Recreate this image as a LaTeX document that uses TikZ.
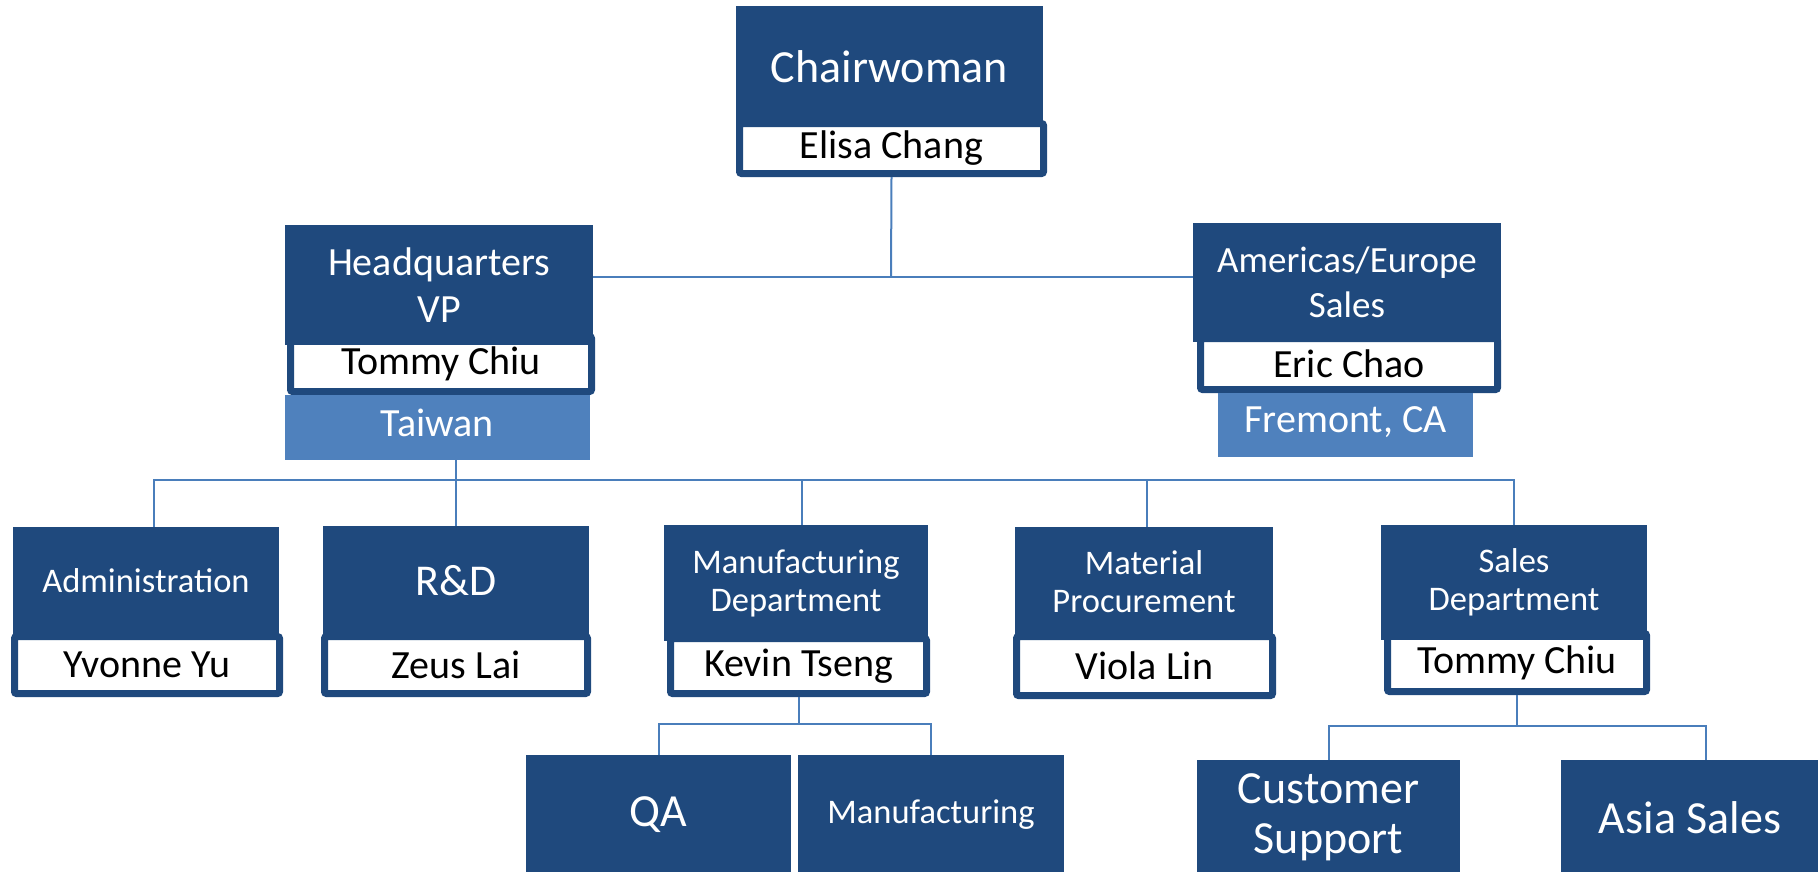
\documentclass[tikz,border=0pt]{standalone}
\usepackage{fontspec}
\setmainfont{Carlito}
\definecolor{unitblue}{RGB}{31,73,125}
\definecolor{siteblue}{RGB}{79,129,189}
\definecolor{linkblue}{RGB}{74,126,187}
\tikzset{
  unit/.style={fill=unitblue, text=white, align=center, inner sep=0pt},
  site/.style={fill=siteblue, text=white, inner sep=0pt, text depth=10pt, font=\fontsize{40}{44}\selectfont},
  head/.style={draw=unitblue, line width=7pt, fill=white, rounded corners=2pt, inner sep=0pt, font=\fontsize{40}{44}\selectfont},
  link/.style={draw=linkblue, line width=2pt},
  big/.style={font=\fontsize{46}{50}\selectfont},
  mid/.style={font=\fontsize{40}{47}\selectfont},
  small/.style={font=\fontsize{34.5}{38}\selectfont},
}
\begin{document}
\begin{tikzpicture}[x=1pt, y=-1pt]
  \clip (0,0) rectangle (1818,871);
  % name plates under the units
  \node[head, minimum width=304, minimum height=50] (chairname) at (891.5,148.5) {Elisa Chang};
  \node[head, minimum width=301, minimum height=55] (hqname) at (441,364) {Tommy Chiu};
  \node[head, minimum width=297, minimum height=51] (amname) at (1349,364) {Eric Chao};
  \node[head, minimum width=265, minimum height=57] (adminname) at (147,665) {Yvonne Yu};
  \node[head, minimum width=263, minimum height=57] (rdname) at (456,665) {Zeus Lai};
  \node[head, minimum width=256, minimum height=55] (mfgname) at (798.5,666) {Kevin Tseng};
  \node[head, minimum width=256, minimum height=59] (matname) at (1144.5,666) {Viola Lin};
  \node[head, minimum width=259, minimum height=58] (salesname) at (1517,662.5) {Tommy Chiu};
  % units
  \node[unit, big, minimum width=307, minimum height=121] (chair) at (889.5,66.5) {Chairwoman};
  \node[unit, mid, minimum width=308, minimum height=120] (hq) at (439,285) {Headquarters\\VP};
  \node[unit, font=\fontsize{37}{45}\selectfont, minimum width=308, minimum height=119] (am) at (1347,282.5) {Americas/Europe\\Sales};
  \node[unit, small, minimum width=266, minimum height=108] (admin) at (146,581) {Administration};
  \node[unit, font=\fontsize{44}{48}\selectfont, minimum width=266, minimum height=109] (rd) at (456,580.5) {R\&D};
  \node[unit, small, minimum width=264, minimum height=116] (mfgdept) at (796,583) {Manufacturing\\Department};
  \node[unit, small, minimum width=258, minimum height=109] (matproc) at (1144,581.5) {Material\\Procurement};
  \node[unit, small, minimum width=266, minimum height=115] (salesdept) at (1514,582.5) {Sales\\Department};
  \node[unit, big, minimum width=265, minimum height=120] (qa) at (658.5,815) {QA};
  \node[unit, small, minimum width=266, minimum height=120] (mfg) at (931,815) {Manufacturing};
  \node[unit, big, minimum width=263, minimum height=115] (cs) at (1328.5,817.5) {Customer\\Support};
  \node[unit, big, minimum width=258, minimum height=115] (asia) at (1690,817.5) {Asia Sales};
  % sites
  \node[site, minimum width=305, minimum height=65] (taiwan) at (437.5,427.5) {Taiwan};
  \node[site, minimum width=255, minimum height=64] (fremont) at (1345.5,425) {Fremont, CA};
  % connectors
  \coordinate (top) at (891,276.5);
  \coordinate (bus) at (0,480);
  \draw[link] (chairname.south) -- (top);
  \draw[link] (hq.east |- top) -- (am.west |- top);
  \draw[link] (rd.north |- taiwan.south) -- (rd.north |- bus);
  \draw[link] ([xshift=8pt]admin.north) |- (salesdept.north |- bus) -- (salesdept.north);
  \draw[link] (rd.north) -- (rd.north |- bus);
  \draw[link] ([xshift=6pt]mfgdept.north) -- ([xshift=6pt]mfgdept.north |- bus);
  \draw[link] ([xshift=3pt]matproc.north) -- ([xshift=3pt]matproc.north |- bus);
  \draw[link] (mfgname.south) -- ++(0,27) coordinate (mbus);
  \draw[link] (qa.north) |- (mfg.north |- mbus) -- (mfg.north);
  \draw[link] (salesname.south) -- ++(0,31) coordinate (sbus);
  \draw[link] (cs.north) |- ([xshift=16pt]asia.north |- sbus) -- ([xshift=16pt]asia.north);
\end{tikzpicture}
\end{document}
